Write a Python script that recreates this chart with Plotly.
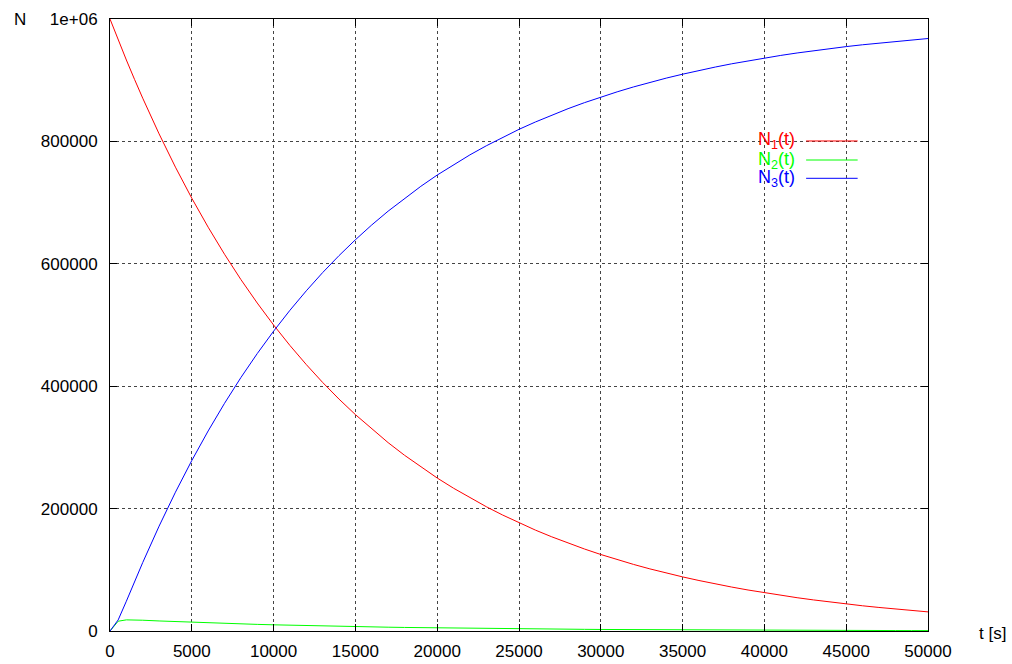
import plotly.graph_objects as go

t = [0, 500, 1000, 1500, 2000] + list(range(3000, 50001, 1000))

n1 = [1000000, 965900, 933000, 901300, 870600, 812300, 757900, 707100, 659800, 615600,
      574300, 535900, 500000, 466500, 435300, 406100, 378900, 353600, 329900, 307800,
      287200, 267900, 250000, 233300, 217600, 203100, 189500, 176800, 164900, 153900,
      143600, 134000, 125000, 116600, 108800, 101500, 94700, 88400, 82500, 76900,
      71800, 67000, 62500, 58300, 54400, 50800, 47400, 44200, 41200, 38500,
      35900, 33500, 31250]

n2 = [0, 16000, 18200, 18100, 17600, 16400, 15300, 14300, 13300, 12400,
      11600, 10800, 10100, 9400, 8800, 8200, 7650, 7140, 6660, 6220,
      5800, 5410, 5050, 4710, 4400, 4100, 3830, 3570, 3330, 3110,
      2900, 2710, 2520, 2360, 2200, 2050, 1910, 1790, 1670, 1550,
      1450, 1350, 1260, 1180, 1100, 1030, 960, 890, 830, 780,
      730, 680, 630]

n3 = [0, 18100, 48700, 80600, 111900, 171300, 226800, 278600, 326900, 372000,
      414100, 453300, 489900, 524100, 555900, 585700, 613400, 639300, 663500, 686000,
      707000, 726600, 745000, 762000, 778000, 792800, 806700, 819700, 831700, 843000,
      853500, 863300, 872500, 881000, 889000, 896400, 903400, 909800, 915900, 921500,
      926800, 931700, 936200, 940500, 944500, 948200, 951700, 954900, 957900, 960700,
      963400, 965800, 968100]

x_ticks = list(range(0, 50001, 5000))
y_ticks = [0, 200000, 400000, 600000, 800000, 1000000]
y_ticktext = ["0", "200000", "400000", "600000", "800000", "1e+06"]

series = [("N<sub>1</sub>(t)", n1, "#ff0000"),
          ("N<sub>2</sub>(t)", n2, "#00ff00"),
          ("N<sub>3</sub>(t)", n3, "#0000ff")]

FONT = "Liberation Sans, Arial, sans-serif"
fig = go.Figure()
for name, vals, col in series:
    fig.add_trace(go.Scatter(x=t, y=vals, mode="lines", name=name,
                             line=dict(color=col, width=1), showlegend=False))

# custom legend (text left of sample line, gnuplot style)
leg_y = [0.8007, 0.7696, 0.7397]
for (name, vals, col), yy in zip(series, leg_y):
    fig.add_annotation(x=0.84, y=yy, xref="paper", yref="paper", text=name,
                       showarrow=False, xanchor="right", yanchor="middle",
                       font=dict(color=col, size=18, family=FONT))
    fig.add_shape(type="line", xref="paper", yref="paper", x0=0.851, x1=0.914,
                  y0=yy, y1=yy, line=dict(color=col, width=1))

fig.add_annotation(x=-0.12, y=1.0, xref="paper", yref="paper", text="N",
                   showarrow=False, xanchor="left", yanchor="middle",
                   font=dict(size=17, family=FONT, color="black"))
fig.add_annotation(x=1.06, y=-0.004, xref="paper", yref="paper", text="t [s]",
                   showarrow=False, xanchor="left", yanchor="middle",
                   font=dict(size=17, family=FONT, color="black"))

axis_common = dict(showline=True, linecolor="black", linewidth=1, mirror="ticks",
                   ticks="inside", ticklen=7, tickcolor="black", automargin=False,
                   showgrid=True, gridcolor="#444", griddash="dot", gridwidth=1,
                   zeroline=False, tickfont=dict(size=17, family=FONT, color="black"))

fig.update_xaxes(range=[0, 50000], tickvals=x_ticks,
                 ticktext=[str(v) for v in x_ticks], ticklabelstandoff=5, **axis_common)
fig.update_yaxes(range=[0, 1000000], tickvals=y_ticks, ticktext=y_ticktext,
                 ticklabelstandoff=8, **axis_common)

fig.update_layout(width=1012, height=664, margin=dict(l=110, r=84, t=19, b=33),
                  plot_bgcolor="white", paper_bgcolor="white",
                  font=dict(family=FONT, size=17, color="black"))

fig.write_html("out.html")
